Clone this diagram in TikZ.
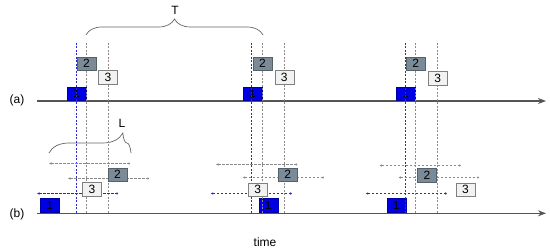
\documentclass[tikz,border=0pt]{standalone}
\usepackage{fontspec}
\setmainfont{Liberation Sans}
\usetikzlibrary{arrows.meta,decorations.pathreplacing}
\definecolor{axisgray}{HTML}{555555}
\definecolor{dashblue}{HTML}{2828D0}
\definecolor{dashgray}{HTML}{8A8A8A}
\definecolor{boxblue}{HTML}{0000E6}
\definecolor{boxslate}{HTML}{7A8A96}
\definecolor{boxlight}{HTML}{F2F2F2}
\tikzset{
  lbl/.style={font=\fontsize{12}{14}\selectfont, inner sep=0pt},
  boxone/.style={draw=boxblue!70!black, fill=boxblue, minimum width=19pt, minimum height=13.5pt, inner sep=0pt, font=\fontsize{12}{14}\selectfont},
  boxtwo/.style={draw=boxslate!70!black, fill=boxslate, minimum width=19pt, minimum height=13.5pt, inner sep=0pt, font=\fontsize{12}{14}\selectfont},
  boxthree/.style={draw=gray, fill=boxlight, minimum width=19pt, minimum height=13.5pt, inner sep=0pt, font=\fontsize{12}{14}\selectfont},
  vblue/.style={draw=dashblue, dash pattern=on 2pt off 1.5pt, line width=1pt},
  vgray/.style={draw=dashgray, dash pattern=on 2pt off 1.5pt, line width=0.7pt},
  hblue/.style={draw=dashblue, dash pattern=on 2.5pt off 1.5pt, line width=1pt, {Latex[length=2.5pt,width=2.5pt]}-{Circle[length=2pt]}},
  hgray/.style={draw=dashgray, dash pattern=on 2.5pt off 1.5pt, line width=0.7pt, {Latex[length=2.5pt,width=2.5pt]}-{Circle[length=2pt]}},
  timeaxis/.style={draw=axisgray, line width=1.3pt, -{Stealth[length=8pt,width=6pt]}},
  bracestyle/.style={draw=gray!80!black, line width=0.7pt, decorate}
}
\begin{document}
\begin{tikzpicture}[x=1pt,y=-1pt]
\useasboundingbox (0,0) rectangle (550,251);

% labels
\node[lbl] (la) at (17,100) {(a)};
\node[lbl] (lb) at (17,214) {(b)};
\node[lbl] (time) at (265,242) {time};
\node[lbl] (T) at (175,10) {T};
\node[lbl] (L) at (122,123) {L};

% axes
\coordinate (a0) at (37,101);
\coordinate (a1) at (546,101);
\coordinate (b0) at (37,213.3);
\coordinate (b1) at (546,213.3);
\draw[timeaxis] (a0) -- (a1);
\draw[timeaxis] (b0) -- (b1);

% braces
\coordinate (Ts) at (86,35);
\coordinate (Te) at (263,35);
\draw[bracestyle, decoration={brace, amplitude=16pt, aspect=0.5}] (Ts) -- (Te);
\coordinate (Ls) at (49,153);
\coordinate (Le) at (131,153);
\draw[bracestyle, decoration={brace, amplitude=20pt, aspect=0.9}] (Ls) -- (Le);

% box 1 nodes (under the dashed lines)
\node[boxone] (a1g1) at (76.5,93.5) {1};
\node[boxone] (a1g2) at (252.2,93.5) {1};
\node[boxone] (a1g3) at (405.5,93.5) {1};
\node[boxone] (b1g1) at (49.7,205.3) {1};
\node[boxone] (b1g2) at (268.2,205.3) {1};
\node[boxone] (b1g3) at (396.2,205.3) {1};

% vertical dashed lines
\coordinate (vb1t) at (76.5,43);  \coordinate (vb1b) at (76.5,214);
\coordinate (vg1t) at (86.5,43);  \coordinate (vg1b) at (86.5,214);
\coordinate (vh1t) at (108,43);   \coordinate (vh1b) at (108,214);
\coordinate (vb2t) at (251.5,43); \coordinate (vb2b) at (251.5,214);
\coordinate (vg2t) at (262.5,43); \coordinate (vg2b) at (262.5,214);
\coordinate (vh2t) at (284.5,43); \coordinate (vh2b) at (284.5,214);
\coordinate (vb3t) at (405.5,43); \coordinate (vb3b) at (405.5,214);
\coordinate (vg3t) at (415.5,43); \coordinate (vg3b) at (415.5,214);
\coordinate (vh3t) at (437.5,43); \coordinate (vh3b) at (437.5,214);
\draw[vblue] (vb1t) -- (vb1b) (vb2t) -- (vb2b) (vb3t) -- (vb3b);
\draw[vgray] (vg1t) -- (vg1b) (vh1t) -- (vh1b) (vg2t) -- (vg2b)
             (vh2t) -- (vh2b) (vg3t) -- (vg3b) (vh3t) -- (vh3b);

% horizontal dashed lines in (b)
\coordinate (t1l) at (49,163.5);    \coordinate (t1r) at (130,163.5);
\coordinate (m1l) at (68,178.5);    \coordinate (m1r) at (149,178.5);
\coordinate (u1l) at (37,193.5);    \coordinate (u1r) at (118,193.5);
\coordinate (t2l) at (216,164.5);   \coordinate (t2r) at (297.3,164.5);
\coordinate (m2l) at (242.7,177.5); \coordinate (m2r) at (324,177.5);
\coordinate (u2l) at (210.7,193.5); \coordinate (u2r) at (291.7,193.5);
\coordinate (t3l) at (379.3,165.5); \coordinate (t3r) at (460.7,165.5);
\coordinate (m3l) at (398.3,177.5); \coordinate (m3r) at (479,177.5);
\coordinate (u3l) at (365.7,193.5); \coordinate (u3r) at (446.7,193.5);
\draw[hgray] (t1l) -- (t1r);
\draw[hgray] (m1l) -- (m1r);
\draw[hblue] (u1l) -- (u1r);
\draw[hgray] (t2l) -- (t2r);
\draw[hgray] (m2l) -- (m2r);
\draw[hblue] (u2l) -- (u2r);
\draw[hgray] (t3l) -- (t3r);
\draw[hgray] (m3l) -- (m3r);
\draw[hblue] (u3l) -- (u3r);

% boxes 2 and 3
\node[boxtwo] (a2g1) at (86.5,63.5) {2};
\node[boxtwo] (a2g2) at (262.5,63.5) {2};
\node[boxtwo] (a2g3) at (415.7,63.5) {2};
\node[boxthree] (a3g1) at (108,77) {3};
\node[boxthree] (a3g2) at (284.2,77) {3};
\node[boxthree] (a3g3) at (437.8,78) {3};

\node[boxtwo] (b2g1) at (117.5,174.5) {2};
\node[boxtwo] (b2g2) at (287.8,174.7) {2};
\node[boxtwo] (b2g3) at (427,175) {2};
\node[boxthree] (b3g1) at (92,189.3) {3};
\node[boxthree] (b3g2) at (257.8,189.5) {3};
\node[boxthree] (b3g3) at (465.5,189.7) {3};
\end{tikzpicture}
\end{document}
